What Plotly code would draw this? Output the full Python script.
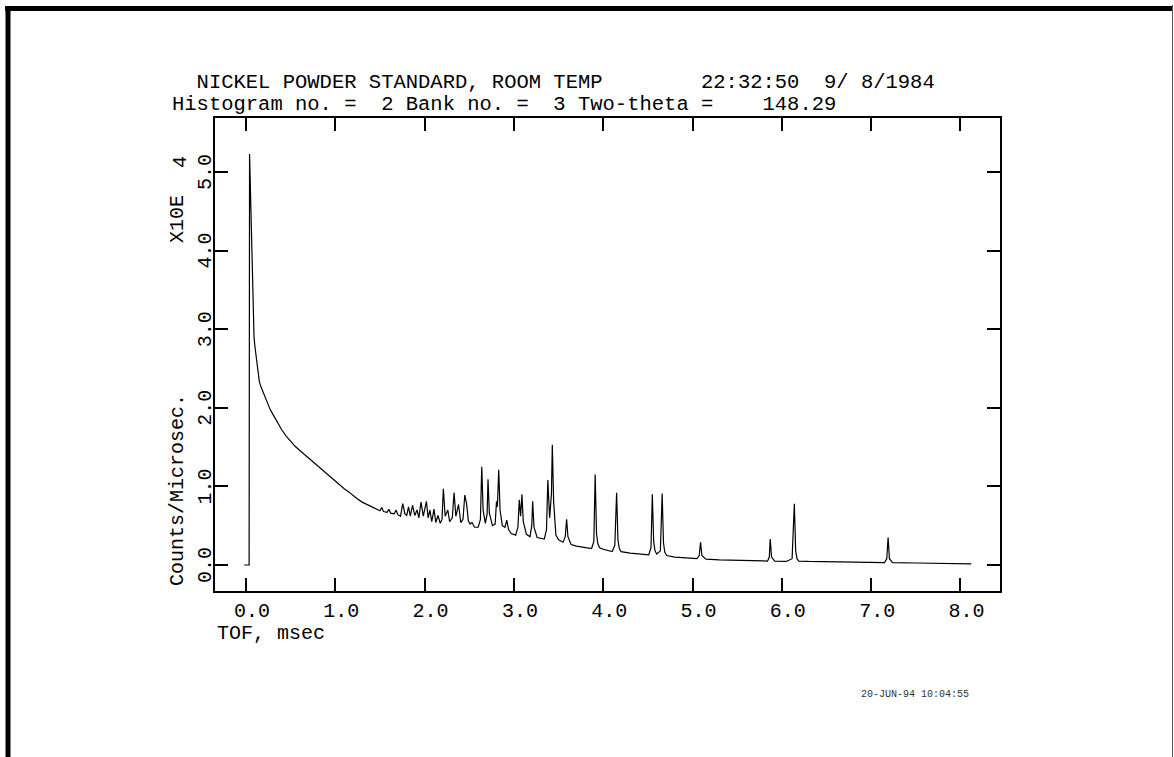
import plotly.graph_objects as go

# ---- data (TOF in msec, counts/microsec in units of 1e4) ----
tof = [
    -0.02, 0.035, 0.040, 0.045, 0.050, 0.055, 0.060, 0.065, 0.070, 0.080, 0.090, 0.100,
    0.120, 0.135, 0.150, 0.170, 0.190, 0.210, 0.240, 0.270, 0.300, 0.350, 0.400, 0.450,
    0.500, 0.550, 0.600, 0.650, 0.700, 0.750, 0.800, 0.850, 0.900, 0.950, 1.000, 1.050,
    1.100, 1.150, 1.200, 1.250, 1.300, 1.350, 1.400, 1.450, 1.500, 1.520, 1.540, 1.580,
    1.600, 1.620, 1.660, 1.680, 1.700, 1.730, 1.755, 1.780, 1.800, 1.820, 1.840, 1.865,
    1.890, 1.915, 1.935, 1.960, 1.985, 2.020, 2.040, 2.060, 2.080, 2.105, 2.125, 2.150,
    2.175, 2.195, 2.210, 2.230, 2.260, 2.280, 2.310, 2.330, 2.350, 2.380, 2.405, 2.430,
    2.450, 2.470, 2.490, 2.510, 2.530, 2.560, 2.600, 2.625, 2.640, 2.655, 2.680, 2.700,
    2.710, 2.725, 2.760, 2.790, 2.805, 2.815, 2.830, 2.845, 2.870, 2.900, 2.920, 2.940,
    2.970, 3.020, 3.045, 3.060, 3.075, 3.090, 3.105, 3.140, 3.180, 3.200, 3.210, 3.225,
    3.260, 3.340, 3.365, 3.380, 3.400, 3.420, 3.430, 3.445, 3.455, 3.470, 3.500, 3.550,
    3.575, 3.590, 3.605, 3.640, 3.700, 3.800, 3.870, 3.895, 3.910, 3.925, 3.940, 3.960,
    4.000, 4.100, 4.130, 4.150, 4.165, 4.180, 4.200, 4.300, 4.400, 4.510, 4.535, 4.550,
    4.565, 4.580, 4.600, 4.640, 4.660, 4.675, 4.690, 4.710, 4.800, 4.900, 5.050, 5.075,
    5.090, 5.105, 5.150, 5.300, 5.500, 5.700, 5.840, 5.860, 5.870, 5.885, 5.920, 6.050,
    6.115, 6.140, 6.155, 6.170, 6.190, 6.300, 6.500, 6.800, 7.000, 7.150, 7.175, 7.190,
    7.205, 7.240, 7.500, 7.800, 8.120,
]
counts = [
    0.00, 0.00, 5.23, 5.00, 4.70, 4.30, 4.00, 3.75, 3.50, 3.10, 2.90, 2.78,
    2.57, 2.42, 2.33, 2.26, 2.20, 2.14, 2.05, 1.98, 1.92, 1.82, 1.72, 1.64,
    1.57, 1.51, 1.46, 1.41, 1.36, 1.31, 1.26, 1.21, 1.16, 1.11, 1.07, 1.02,
    0.97, 0.93, 0.88, 0.84, 0.80, 0.77, 0.74, 0.72, 0.69, 0.73, 0.68, 0.67,
    0.71, 0.66, 0.65, 0.70, 0.64, 0.62, 0.78, 0.65, 0.63, 0.74, 0.62, 0.76,
    0.63, 0.70, 0.60, 0.80, 0.62, 0.81, 0.60, 0.70, 0.55, 0.71, 0.54, 0.63,
    0.53, 0.58, 0.97, 0.62, 0.70, 0.55, 0.60, 0.92, 0.62, 0.77, 0.54, 0.58,
    0.89, 0.78, 0.56, 0.52, 0.54, 0.48, 0.48, 0.58, 1.25, 0.70, 0.53, 0.65,
    1.09, 0.66, 0.50, 0.52, 0.81, 0.74, 1.21, 0.70, 0.50, 0.48, 0.57, 0.45,
    0.40, 0.38, 0.48, 0.83, 0.62, 0.90, 0.55, 0.39, 0.36, 0.50, 0.81, 0.48,
    0.35, 0.33, 0.45, 1.08, 0.60, 0.90, 1.53, 0.80, 0.55, 0.38, 0.32, 0.29,
    0.36, 0.58, 0.36, 0.26, 0.24, 0.22, 0.21, 0.30, 1.15, 0.40, 0.27, 0.22,
    0.20, 0.17, 0.25, 0.92, 0.32, 0.21, 0.17, 0.15, 0.14, 0.13, 0.22, 0.90,
    0.30, 0.18, 0.14, 0.18, 0.91, 0.28, 0.16, 0.12, 0.10, 0.09, 0.08, 0.12,
    0.29, 0.12, 0.075, 0.065, 0.058, 0.052, 0.05, 0.10, 0.33, 0.10, 0.05, 0.045,
    0.08, 0.78, 0.18, 0.08, 0.05, 0.045, 0.04, 0.035, 0.032, 0.03, 0.08, 0.35,
    0.08, 0.03, 0.025, 0.02, 0.015,
]

x_ticks = [0, 1, 2, 3, 4, 5, 6, 7, 8]
x_ticktext = ["0.0", "1.0", "2.0", "3.0", "4.0", "5.0", "6.0", "7.0", "8.0"]
y_ticks = [0, 1, 2, 3, 4, 5]
y_ticktext = ["0.0", "1.0", "2.0", "3.0", "4.0", "5.0"]

title1 = "  NICKEL POWDER STANDARD, ROOM TEMP        22:32:50  9/ 8/1984"
title2 = "Histogram no. =  2 Bank no. =  3 Two-theta =    148.29"
x_title = "TOF, msec"
y_title = "Counts/Microsec."
y_scale = "X10E"
y_exp = "4"
stamp = "20-JUN-94 10:04:55"

# ---- layout geometry (pixels) ----
W, H = 1174, 757
L, R, T, B = 215, 1000, 118, 591
FONT = "Liberation Mono, DejaVu Sans Mono, monospace"


def px(xp):
    return (xp - L) / (R - L)


def py(yp):
    return (B - yp) / (B - T)


fig = go.Figure()
fig.add_trace(go.Scatter(x=tof, y=counts, mode="lines",
                         line=dict(color="black", width=1.2),
                         showlegend=False, hoverinfo="skip"))

axis_common = dict(
    showgrid=False, zeroline=False, showline=True, linecolor="black",
    linewidth=1.5, mirror="ticks", ticks="inside", ticklen=13,
    tickwidth=1.5, tickcolor="black",
    tickfont=dict(family=FONT, size=20, color="black"),
)

fig.update_xaxes(range=[-0.347, 8.443], tickvals=x_ticks, ticktext=x_ticktext,
                 ticklabelshift=6, **axis_common)
fig.update_yaxes(range=[-0.331, 5.687], tickvals=y_ticks, ticktext=y_ticktext,
                 tickangle=-90, ticklabelstandoff=-6, ticklabelshift=3, **axis_common)

tf = dict(family=FONT, size=20.5, color="black")
tf2 = dict(family=FONT, size=20, color="black")
ann = [
    dict(text=title1.replace(" ", "\u00a0"), x=px(170), y=py(82), xanchor="left", yanchor="middle", font=tf),
    dict(text=title2.replace(" ", "\u00a0"), x=px(170), y=py(104), xanchor="left", yanchor="middle", font=tf),
    dict(text=x_title, x=px(215), y=py(633), xanchor="left", yanchor="middle", font=tf2),
    dict(text=y_title, x=px(177), y=py(490), xanchor="center", yanchor="middle", textangle=-90, font=tf2),
    dict(text=y_scale, x=px(177), y=py(219), xanchor="center", yanchor="middle", textangle=-90, font=tf2),
    dict(text=y_exp, x=px(180), y=py(162), xanchor="center", yanchor="middle", textangle=-90, font=tf2),
    dict(text=stamp, x=px(859), y=py(694), xanchor="left", yanchor="middle",
         font=dict(family=FONT, size=10, color="#333333")),
]
for a in ann:
    a.update(xref="paper", yref="paper", showarrow=False)
fig.update_layout(annotations=ann)

shapes = [
    dict(type="rect", x0=px(5), x1=px(1172.5), y0=py(6), y1=py(11),
         fillcolor="black", line=dict(width=0)),
    dict(type="rect", x0=px(5.5), x1=px(10.5), y0=py(6), y1=py(760),
         fillcolor="black", line=dict(width=0)),
    dict(type="line", x0=px(1172.5), x1=px(1172.5), y0=py(5), y1=py(760),
         line=dict(color="#555555", width=1)),
]
for s in shapes:
    s.update(xref="paper", yref="paper", layer="above")
fig.update_layout(shapes=shapes)

fig.update_layout(
    width=W, height=H, autosize=False,
    margin=dict(l=L, r=W - R, t=T, b=H - B, pad=0),
    paper_bgcolor="white", plot_bgcolor="white",
)

fig.write_html("out.html")
